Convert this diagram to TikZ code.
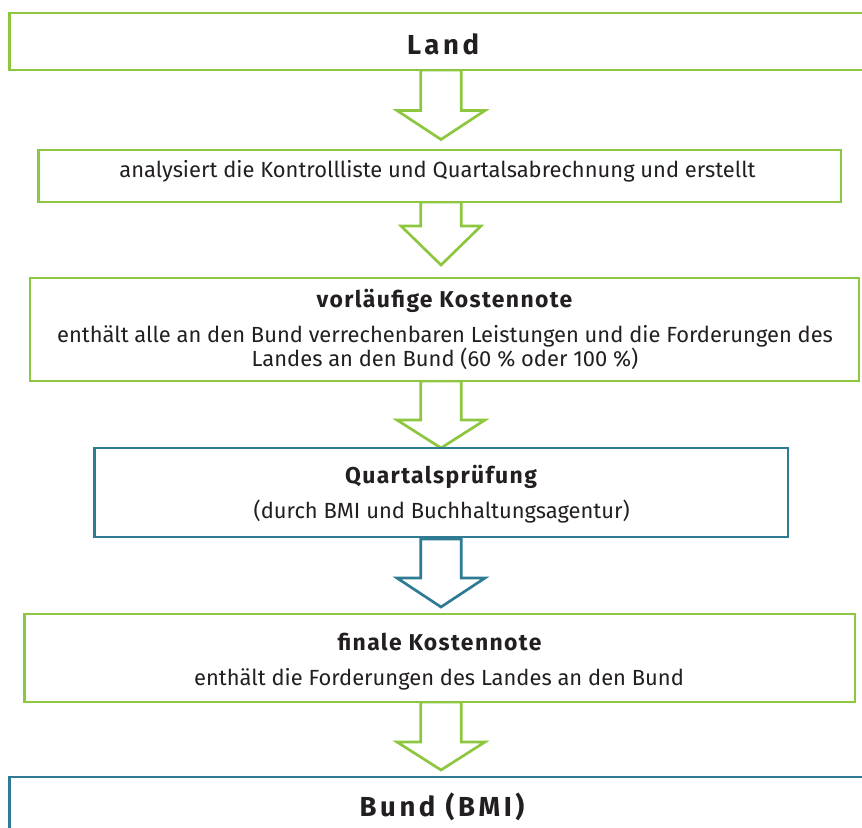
\documentclass[tikz,border=0pt]{standalone}
\usepackage{fontspec}
\setmainfont{Fira Sans}
\usetikzlibrary{calc,backgrounds}
\definecolor{gr}{HTML}{8DC63F}
\definecolor{bl}{HTML}{2F7B93}
\definecolor{tx}{HTML}{231F20}
\tikzset{
  box/.style={draw, line width=2.7bp, fill=white, inner sep=0pt, outer sep=0pt},
  gbox/.style={box, draw=gr},
  bbox/.style={box, draw=bl},
  txt/.style={anchor=base, inner sep=0pt, align=center, text=tx,
    font=\fontsize{22}{24}\selectfont},
  ttl/.style={txt, font=\fontsize{23}{25}\selectfont\bfseries\addfontfeature{LetterSpace=6}},
  bigttl/.style={txt, font=\fontsize{27.6}{30}\selectfont\bfseries\addfontfeature{LetterSpace=13}},
  arrowline/.style={line width=2.7bp, line join=miter, fill=white},
}
% #1 src, #2 dst, #3 gap, #4 head length, #5 head half width, #6 colour, #7 start offset
\newcommand\blockarrow[7]{%
  \draw[arrowline,draw=#6]
    ($(ax |- #1.south)+(-20.25,#7)$) -- ($(ax |- #1.south)+(20.25,#7)$)
    -- ($(ax |- #2.north)+(20.25,-#3-#4)$) -- ($(ax |- #2.north)+(#5,-#3-#4)$)
    -- ($(ax |- #2.north)+(0,-#3)$) -- ($(ax |- #2.north)+(-#5,-#3-#4)$)
    -- ($(ax |- #2.north)+(-20.25,-#3-#4)$) -- cycle;}
\begin{document}
\begin{tikzpicture}[x=1bp,y=-1bp]
\useasboundingbox (0,0) rectangle (862,828);
\coordinate (ax) at (441,0);
% boxes
\node[gbox, minimum width=867.4bp, minimum height=57bp] (land) at (443,41.5) {};
\node[gbox, minimum width=802.5bp, minimum height=52bp] (analyse) at (439.75,176) {};
\node[gbox, minimum width=829bp, minimum height=103bp] (vorl) at (444.5,329.5) {};
\node[bbox, minimum width=693.5bp, minimum height=89bp] (quartal) at (441.25,492.5) {};
\node[gbox, minimum width=830.3bp, minimum height=88bp] (final) at (439.9,658) {};
\node[bbox, minimum width=865.4bp, minimum height=60bp] (bund) at (442,807) {};
% texts (base anchor = baseline of the last line)
\node[bigttl] (land-t) at (443,54) {Land};
\node[txt] (analyse-t) at (437.5,177.7) {analysiert die Kontrollliste und Quartalsabrechnung und erstellt};
\node[ttl] (vorl-t) at (444.5,307.3) {vorläufige Kostennote};
\node[txt] (vorl-b) at (445,366.5) {enthält alle an den Bund verrechenbaren Leistungen und die Forderungen des\\Landes an den Bund (60 \% oder 100 \%)};
\node[ttl] (quartal-t) at (441,483.3) {Quartalsprüfung};
\node[txt] (quartal-b) at (441.7,518.3) {(durch BMI und Buchhaltungsagentur)};
\node[ttl] (final-t) at (439.5,650.7) {finale Kostennote};
\node[txt] (final-b) at (439,685) {enthält die Forderungen des Landes an den Bund};
\node[bigttl] (bund-t) at (442,816.7) {Bund (BMI)};
% block arrows
\begin{scope}[on background layer]
\blockarrow{land}{analyse}{10.5}{29}{44}{gr}{0}
\blockarrow{analyse}{vorl}{13}{39}{40}{gr}{0}
\blockarrow{vorl}{quartal}{0}{28}{44}{gr}{0}
\blockarrow{quartal}{final}{7}{29}{44}{bl}{2}
\blockarrow{final}{bund}{7}{28}{44}{gr}{0}
\end{scope}
\end{tikzpicture}
\end{document}
